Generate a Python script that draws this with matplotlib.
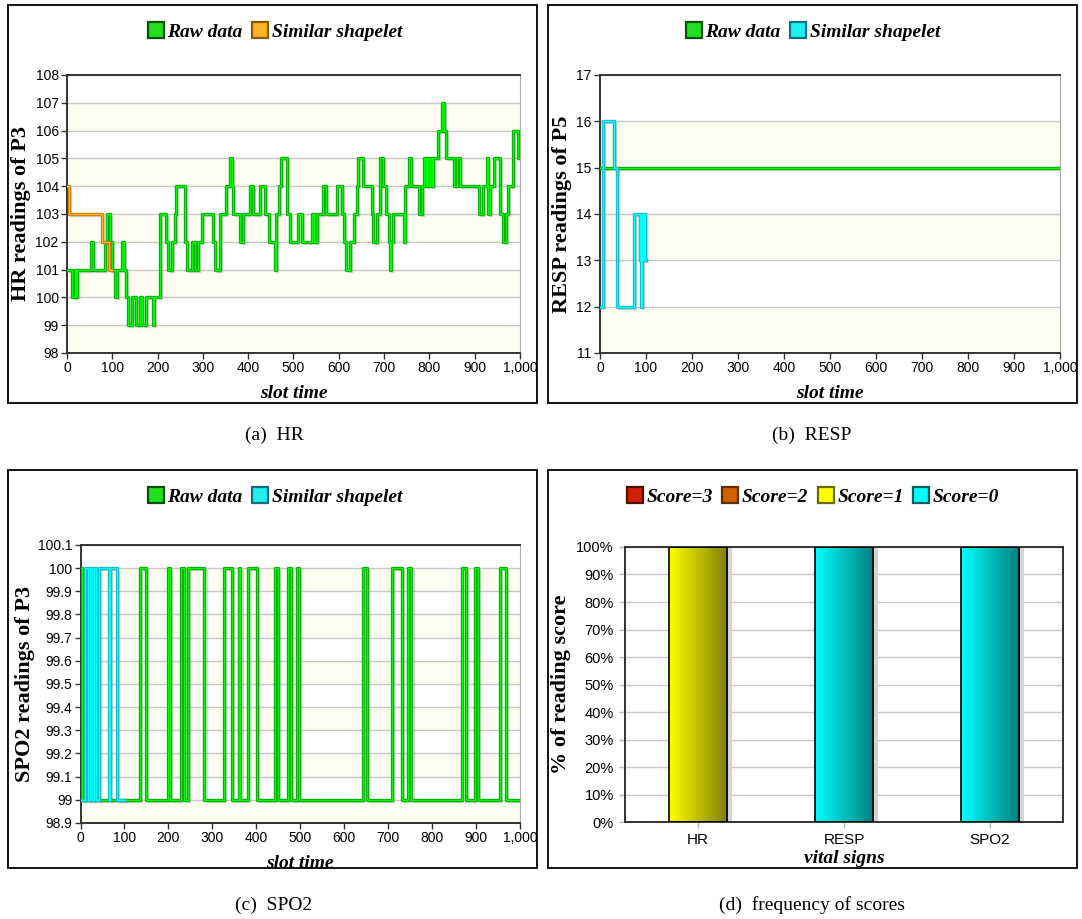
import numpy as np
import matplotlib
matplotlib.use('Agg')
import matplotlib.pyplot as plt
from matplotlib import patheffects as pe
from matplotlib.patches import Rectangle
from matplotlib.lines import Line2D
from matplotlib.colors import LinearSegmentedColormap
from matplotlib.ticker import FuncFormatter, MultipleLocator

plt.rcParams['font.family'] = 'Liberation Sans'
SERIF = 'Liberation Serif'

# ---- data (change points, value holds until next point) ----
hr_x = [0, 10, 18, 21, 23, 52, 57, 84, 89, 95, 100, 106, 110, 122, 126, 131, 135, 143,
        152, 162, 165, 174, 189, 192, 205, 219, 222, 231, 238, 241, 261, 264, 277, 283,
        290, 298, 323, 327, 337, 351, 359, 364, 367, 382, 388, 404, 410, 425, 437, 445,
        459, 462, 468, 472, 486, 492, 511, 518, 540, 545, 551, 566, 572, 597, 606, 612,
        617, 625, 634, 640, 643, 653, 673, 676, 684, 690, 692, 697, 704, 710, 713, 716,
        720, 743, 746, 754, 759, 776, 783, 787, 792, 795, 798, 801, 806, 808, 818, 827,
        832, 837, 854, 860, 868, 910, 918, 927, 930, 934, 943, 955, 963, 968, 974, 984,
        996, 1000]
hr_y = [101, 100, 101, 100, 101, 102, 101, 102, 103, 102, 101, 100, 101, 102, 101, 100, 99, 100,
        99, 100, 99, 100, 99, 100, 103, 102, 101, 102, 103, 104, 102, 101, 102, 101,
        102, 103, 102, 101, 103, 104, 105, 104, 103, 102, 103, 104, 103, 104, 103, 102,
        101, 103, 104, 105, 103, 102, 103, 102, 103, 102, 103, 104, 103, 104, 103, 102,
        101, 102, 103, 104, 105, 104, 103, 102, 103, 104, 105, 104, 103, 102, 101, 102,
        103, 102, 104, 105, 104, 103, 104, 105, 104, 105, 104, 105, 104, 105, 106, 107,
        106, 105, 104, 105, 104, 103, 104, 105, 103, 104, 105, 103, 102, 103, 104, 106,
        105, 105]
hr_shp_x = [0, 4, 77, 93, 100]
hr_shp_y = [104, 103, 102, 101, 101]

resp_x = [0, 1000]
resp_y = [15, 15]
resp_shp_x = [0, 6, 31, 37, 74, 86, 88, 90, 92, 94, 96, 98, 100]
resp_shp_y = [12, 16, 15, 12, 14, 13, 14, 12, 14, 13, 14, 13, 13]

spo2_x = [0, 3, 136, 148, 198, 204, 229, 235, 244, 282, 327, 344, 361, 364, 380, 402,
          443, 450, 473, 478, 493, 498, 642, 652, 708, 731, 746, 753, 869, 876, 897, 905,
          954, 968, 1000]
spo2_y = [100, 99, 100, 99, 100, 99, 100, 99, 100, 99, 100, 99, 100, 99, 100, 99,
          100, 99, 100, 99, 100, 99, 100, 99, 100, 99, 100, 99, 100, 99, 100, 99,
          100, 99, 99]
spo2_shp_x = [0, 10, 18, 21, 27, 30, 35, 42, 64, 67, 82, 100]
spo2_shp_y = [99, 100, 99, 100, 99, 100, 99, 100, 99, 100, 99, 99]

signs = ['HR', 'RESP', 'SPO2']
score_names = ['Score=3', 'Score=2', 'Score=1', 'Score=0']
score3 = [0, 0, 0]
score2 = [0, 0, 0]
score1 = [100, 0, 0]
score0 = [0, 100, 100]

GREEN = ('#00ff00', '#10a010')
ORANGE = ('#ffb428', '#c07800')
CYAN = ('#00ffff', '#20b0c0')

fig = plt.figure(figsize=(10.82, 9.19), dpi=100)


def fx(edge):
    return [pe.SimpleLineShadow(offset=(1.5, -1.5), shadow_color='#888888', alpha=0.35),
            pe.Stroke(linewidth=2.4, foreground=edge), pe.Normal()]


def line_panel(rect, xs, ys, sx, sy, scol, ylim, ystep, ylabel, ypad):
    ax = fig.add_axes(rect)
    n = int(round((ylim[1] - ylim[0]) / ystep))
    for k in range(n):
        if k % 2 == 1:
            hi = ylim[1] - k * ystep
            ax.axhspan(hi - ystep, hi, color='#fcfcf0', zorder=0, lw=0)
    ax.step(xs, ys, where='post', color=GREEN[0], lw=1.0, path_effects=fx(GREEN[1]), zorder=3)
    ax.step(sx, sy, where='post', color=scol[0], lw=1.0, path_effects=fx(scol[1]), zorder=4)
    ax.set_xlim(0, 1000)
    ax.set_ylim(*ylim)
    ax.xaxis.set_major_locator(MultipleLocator(100))
    ax.yaxis.set_major_locator(MultipleLocator(ystep))
    ax.xaxis.set_major_formatter(FuncFormatter(lambda v, p: '{:,}'.format(int(round(v)))))
    ax.yaxis.set_major_formatter(FuncFormatter(lambda v, p: '%g' % round(v, 2)))
    ax.grid(axis='y', color='#c8c8c8', lw=1, zorder=1)
    ax.set_axisbelow(True)
    for s in ['left', 'bottom', 'top']:
        ax.spines[s].set_color('#333333')
        ax.spines[s].set_linewidth(1.4)
    ax.spines['right'].set_color('#aaaaaa')
    ax.tick_params(labelsize=10, length=4, width=1, color='#333333', pad=2)
    ax.set_xlabel('slot time', family=SERIF, fontsize=14, fontweight='bold', style='italic',
                  labelpad=7)
    ax.set_ylabel(ylabel, family=SERIF, fontsize=16, fontweight='bold', labelpad=ypad)
    return ax


def panel_legend(ax, names, faces, edges, cx, cy):
    hs = [Line2D([], [], ls='none', marker='s', markersize=12, markerfacecolor=f,
                 markeredgecolor=e, markeredgewidth=1.6) for f, e in zip(faces, edges)]
    fig.legend(hs, names, loc='center', bbox_to_anchor=(cx, cy), ncol=len(names),
               frameon=False, handletextpad=0.1, columnspacing=0.4, handlelength=1.0,
               prop=dict(family=SERIF, size=14, weight='bold', style='italic'))


ax_a = line_panel([0.0619, 0.6159, 0.4187, 0.3025], hr_x, hr_y, hr_shp_x, hr_shp_y, ORANGE,
                  (98, 108), 1, 'HR readings of P3', 3)
ax_b = line_panel([0.5545, 0.6159, 0.4252, 0.3025], resp_x, resp_y, resp_shp_x, resp_shp_y,
                  CYAN, (11, 17), 1, 'RESP readings of P5', 3)
ax_c = line_panel([0.0744, 0.1045, 0.4062, 0.3025], spo2_x, spo2_y, spo2_shp_x, spo2_shp_y,
                  CYAN, (98.9, 100.1), 0.1, 'SPO2 readings of P3', 2)

panel_legend(ax_a, ['Raw data', 'Similar shapelet'], ['#20e020', '#ffb428'],
             ['#085008', '#8a5a00'], 0.2532, 0.965)
panel_legend(ax_b, ['Raw data', 'Similar shapelet'], ['#20e020', '#20f0f0'],
             ['#085008', '#107080'], 0.7505, 0.965)
panel_legend(ax_c, ['Raw data', 'Similar shapelet'], ['#20e020', '#20f0f0'],
             ['#085008', '#107080'], 0.2532, 0.459)

# ---- (d) stacked percentage bars ----
ax_d = fig.add_axes([0.5776, 0.1055, 0.4048, 0.2993])
xpos = np.arange(len(signs))
grads = [('#e04020', '#801000'), ('#e08020', '#804000'), ('#ffff00', '#7f7f00'),
         ('#00ffff', '#007f7f')]
bottom = np.zeros(len(signs))
for vals, (c0, c1) in zip([score3, score2, score1, score0], grads):
    vals = np.array(vals, dtype=float)
    bars = ax_d.bar(xpos, vals, 0.4, bottom=bottom, color=c0, lw=0, zorder=2,
                    path_effects=[pe.SimplePatchShadow(offset=(3.5, 0), shadow_rgbFace='#d4d4d4',
                                                       alpha=1), pe.Normal()])
    cmap = LinearSegmentedColormap.from_list('g', [c0, c1])
    for b, v in zip(bars, vals):
        if v <= 0:
            continue
        im = ax_d.imshow(np.linspace(0, 1, 256)[None, :], cmap=cmap, aspect='auto',
                         extent=[b.get_x(), b.get_x() + b.get_width(), b.get_y(),
                                 b.get_y() + b.get_height()], zorder=2.1)
        im.set_clip_path(b)
    ax_d.bar(xpos, vals, 0.4, bottom=bottom, fill=False, lw=1.2,
             edgecolor=['black' if v > 0 else 'none' for v in vals], zorder=3)
    bottom = bottom + vals
ax_d.set_xlim(-0.5, 2.5)
ax_d.set_ylim(0, 100)
ax_d.set_xticks(xpos)
ax_d.set_xticklabels(signs, fontsize=11)
ax_d.yaxis.set_major_locator(MultipleLocator(10))
ax_d.yaxis.set_major_formatter(FuncFormatter(lambda v, p: '%d%%' % v))
ax_d.grid(axis='y', color='#c8c8c8', lw=1, zorder=1)
ax_d.set_axisbelow(True)
for s in ax_d.spines.values():
    s.set_color('#333333')
    s.set_linewidth(1.4)
ax_d.tick_params(axis='y', labelsize=10.5)
ax_d.tick_params(length=4, width=1, color='#bbbbbb', pad=4)
ax_d.set_xlabel('vital signs', family=SERIF, fontsize=14, fontweight='bold', style='italic',
                labelpad=2)
ax_d.set_ylabel('% of reading score', family=SERIF, fontsize=16, fontweight='bold', labelpad=4)
panel_legend(ax_d, score_names, ['#d02000', '#d06000', '#ffff00', '#00ffff'],
             ['#501000', '#603000', '#6a6a00', '#006060'], 0.7505, 0.459)

# ---- panel frames and captions ----
for (x0, y0) in [(8, 5), (548, 5), (8, 470), (548, 470)]:
    fig.add_artist(Rectangle((x0 / 1082, 1 - (y0 + 398) / 919), 529 / 1082, 398 / 919,
                             transform=fig.transFigure, fill=False, ec='black', lw=1.3))
for txt, cx, cy in [('(a)  HR', 274, 435), ('(b)  RESP', 812, 435),
                    ('(c)  SPO2', 274, 905), ('(d)  frequency of scores', 812, 905)]:
    fig.text(cx / 1082, 1 - cy / 919, txt, family=SERIF, fontsize=14, ha='center', va='center')

fig.savefig('out.png', dpi=100)
